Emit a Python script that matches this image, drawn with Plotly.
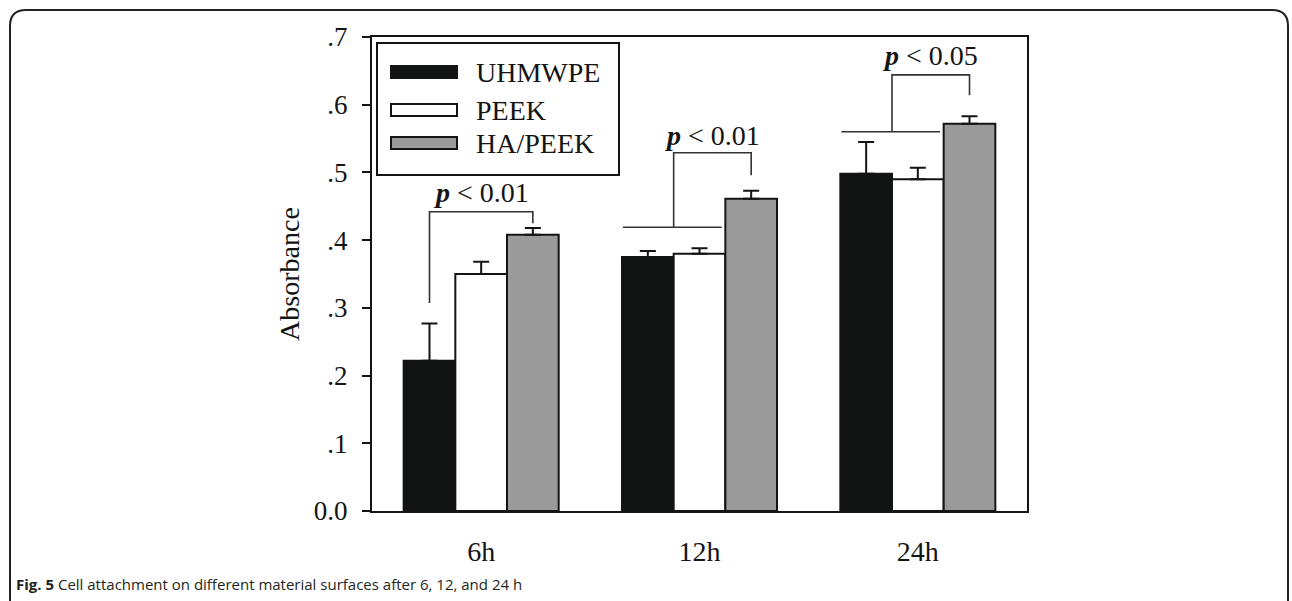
import plotly.graph_objects as go

# ---------------- data ----------------
categories = ["6h", "12h", "24h"]
series_names = ["UHMWPE", "PEEK", "HA/PEEK"]
uhmwpe = [0.222, 0.375, 0.498]
uhmwpe_err = [0.055, 0.009, 0.047]
peek = [0.350, 0.380, 0.490]
peek_err = [0.018, 0.008, 0.017]
ha_peek = [0.408, 0.461, 0.572]
ha_peek_err = [0.010, 0.012, 0.011]

y_tick_vals = [0.0, 0.1, 0.2, 0.3, 0.4, 0.5, 0.6, 0.7]
y_tick_text = ["0.0", ".1", ".2", ".3", ".4", ".5", ".6", ".7"]

p_labels = ["p < 0.01", "p < 0.01", "p < 0.05"]
bracket_top = [0.442, 0.529, 0.644]
bracket_left_bottom = [0.307, 0.419, 0.560]
bracket_right_bottom = [0.425, 0.496, 0.614]
p_label_y = [0.470, 0.555, 0.673]

caption_bold = "Fig. 5"
caption_text = "Cell attachment on different material surfaces after 6, 12, and 24 h"

# ---------------- style ----------------
W, H = 1292, 601
L, R, T, B = 372, 1027, 37, 511   # plot area pixels
SERIF = "Liberation Serif, Times New Roman, serif"
INK = "#141414"
colors = ["#121414", "#ffffff", "#999a99"]
BARGAP = 0.29
bw = (1 - BARGAP) / 3


def px(x):
    return (x - L) / (R - L)


def py(y):
    return (B - y) / (B - T)


fig = go.Figure()
values = [uhmwpe, peek, ha_peek]
errs = [uhmwpe_err, peek_err, ha_peek_err]
for name, v, e, c in zip(series_names, values, errs, colors):
    fig.add_trace(go.Bar(
        x=categories, y=v, name=name, showlegend=False,
        marker=dict(color=c, line=dict(color=INK, width=2)),
        error_y=dict(type="data", array=e, arrayminus=[0] * len(e), symmetric=False,
                     color=INK, thickness=2, width=8),
    ))

shapes = []
annotations = []
line_style = dict(color="#333333", width=1.6)

# significance brackets
for i in range(len(categories)):
    xr = i + bw
    if i == 0:
        xl = i - bw
    else:
        xl = i - bw / 2
        # baseline spanning first two bars
        shapes.append(dict(type="line", xref="x", yref="y",
                           x0=i - 1.48 * bw, x1=i + 0.43 * bw,
                           y0=bracket_left_bottom[i], y1=bracket_left_bottom[i],
                           line=line_style))
    path = (f"M {xl},{bracket_left_bottom[i]} L {xl},{bracket_top[i]} "
            f"L {xr},{bracket_top[i]} L {xr},{bracket_right_bottom[i]}")
    shapes.append(dict(type="path", xref="x", yref="y", path=path, line=line_style))
    xc = (xl + xr) / 2
    annotations.append(dict(
        x=xc, y=p_label_y[i], xref="x", yref="y", showarrow=False,
        text="<b><i>" + p_labels[i][0] + "</i></b>" + p_labels[i][1:],
        font=dict(family=SERIF, size=28, color=INK), xanchor="center", yanchor="middle"))

# legend (manual, to match wide swatches)
shapes.append(dict(type="rect", xref="paper", yref="paper",
                   x0=px(377), x1=px(619), y0=py(175), y1=py(43),
                   line=dict(color=INK, width=2), fillcolor="white", layer="above"))
leg_y = [72, 110, 143]
for name, c, yy in zip(series_names, colors, leg_y):
    shapes.append(dict(type="rect", xref="paper", yref="paper",
                       x0=px(391), x1=px(457), y0=py(yy + 6), y1=py(yy - 6),
                       line=dict(color=INK, width=2), fillcolor=c, layer="above"))
    annotations.append(dict(x=px(474), y=py(yy), xref="paper", yref="paper",
                            text=name, showarrow=False, xanchor="left", yanchor="middle",
                            font=dict(family=SERIF, size=28, color=INK)))

# outer rounded frame
fx0, fy0, fx1, r = 10, 10, 1288, 16
frame = (f"M {px(fx0)},{py(601)} L {px(fx0)},{py(fy0 + r)} "
         f"Q {px(fx0)},{py(fy0)} {px(fx0 + r)},{py(fy0)} "
         f"L {px(fx1 - r)},{py(fy0)} Q {px(fx1)},{py(fy0)} {px(fx1)},{py(fy0 + r)} "
         f"L {px(fx1)},{py(601)}")
shapes.append(dict(type="path", xref="paper", yref="paper", path=frame,
                   line=dict(color="#222222", width=2)))

# caption
annotations.append(dict(x=px(14), y=py(584), xref="paper", yref="paper", showarrow=False,
                        xanchor="left", yanchor="middle",
                        text=f"<b>{caption_bold}</b> {caption_text}",
                        font=dict(family="Open Sans, Noto Sans, sans-serif", size=15, color="#231f20")))

fig.update_layout(
    width=W, height=H, autosize=False,
    margin=dict(l=L, r=W - R, t=T, b=H - B, pad=0),
    paper_bgcolor="white", plot_bgcolor="white",
    barmode="group", bargap=BARGAP, bargroupgap=0,
    shapes=shapes, annotations=annotations,
    font=dict(family=SERIF, color=INK),
    xaxis=dict(type="category", range=[-0.5, 2.5], showline=True, linewidth=2,
               linecolor=INK, mirror=True, ticks="", showgrid=False,
               ticklabelstandoff=14,
               tickfont=dict(family=SERIF, size=28, color=INK)),
    yaxis=dict(range=[0, 0.7], tickvals=y_tick_vals, ticktext=y_tick_text,
               ticks="outside", ticklen=8, tickwidth=2, tickcolor=INK,
               showline=True, linewidth=2, linecolor=INK, mirror=True,
               showgrid=False, zeroline=False, ticklabelstandoff=9,
               tickfont=dict(family=SERIF, size=27, color=INK),
               title=dict(text="Absorbance", font=dict(family=SERIF, size=28, color=INK),
                          standoff=6)),
)

fig.write_html("out.html")
